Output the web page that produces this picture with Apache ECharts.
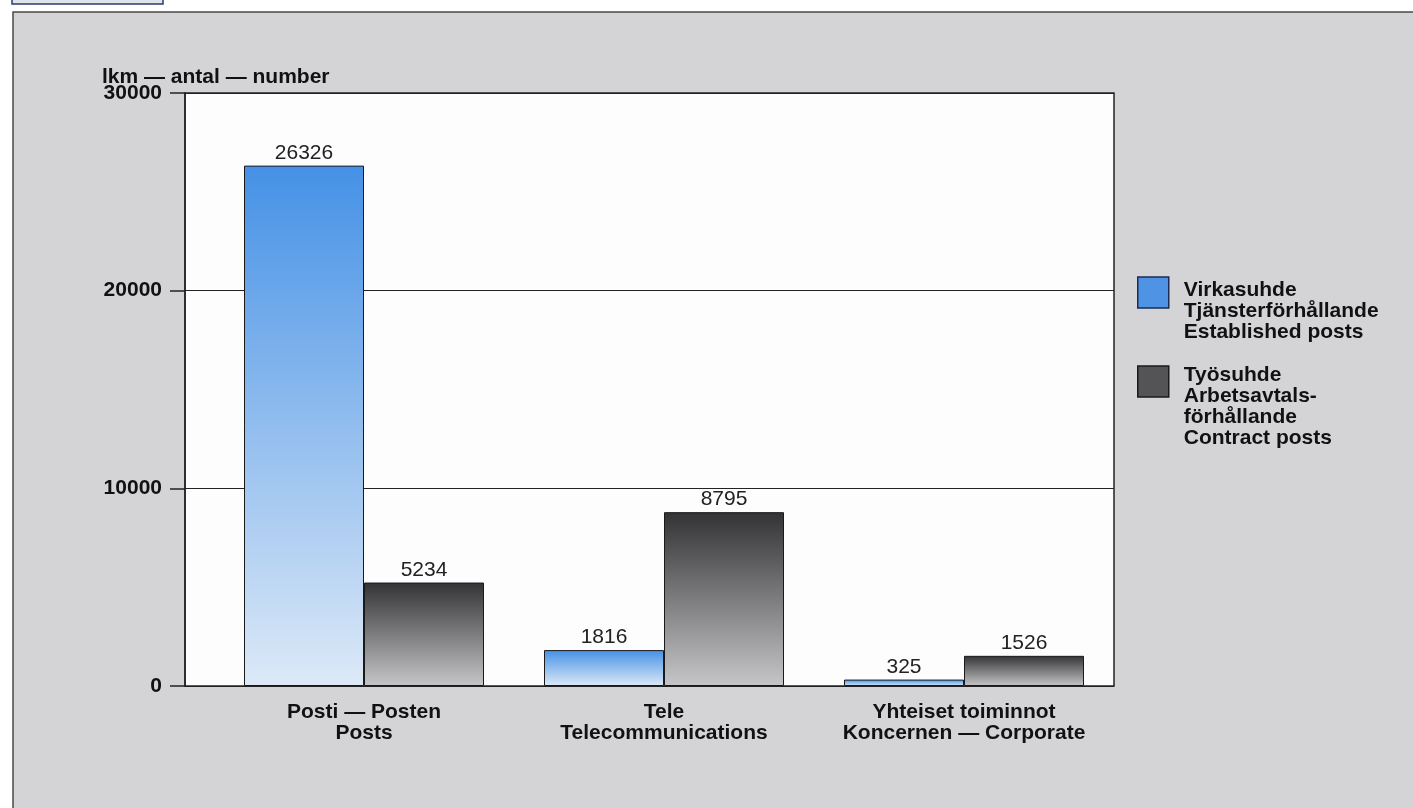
<!DOCTYPE html>
<html>
<head>
<meta charset="utf-8">
<script src="https://cdn.jsdelivr.net/npm/echarts@6/dist/echarts.min.js"></script>
<style>
html,body{margin:0;padding:0;background:#fff;}
#c{width:1413px;height:808px;}
</style>
</head>
<body>
<div id="c"></div>
<script>
const categories = ['Posti — Posten\nPosts', 'Tele\nTelecommunications', 'Yhteiset toiminnot\nKoncernen — Corporate'];
const seriesNames = ['Virkasuhde\nTjänsterförhållande\nEstablished posts', 'Työsuhde\nArbetsavtals-\nförhållande\nContract posts'];
const established = [26326, 1816, 325];
const contract = [5234, 8795, 1526];
const yMin = 0, yMax = 30000, yStep = 10000;
const axisTitle = 'lkm — antal — number';

const FONT = '"Liberation Sans", Arial, Helvetica, sans-serif';
const chart = echarts.init(document.getElementById('c'), null, {renderer: 'canvas'});

const blueGrad = new echarts.graphic.LinearGradient(0, 0, 0, 1, [
  {offset: 0, color: '#4591e6'}, {offset: 1, color: '#dde9f7'}
]);
const darkGrad = new echarts.graphic.LinearGradient(0, 0, 0, 1, [
  {offset: 0, color: '#333335'}, {offset: 1, color: '#c6c6c8'}
]);

const legendText = {fontFamily: FONT, fontSize: 21, fontWeight: 'bold', lineHeight: 21, color: '#111', padding: [0, 0, 0, 10]};

const option = {
  backgroundColor: '#ffffff',
  animation: false,
  textStyle: {fontFamily: FONT},
  graphic: {
    elements: [
      {type: 'rect', z: -100, shape: {x: 13, y: 12, width: 1420, height: 820},
       style: {fill: '#d4d4d7', stroke: '#4a4a4e', lineWidth: 1.5}},
      {type: 'rect', z: -100, shape: {x: 12, y: -10, width: 151, height: 14},
       style: {fill: '#dfe3ea', stroke: '#2c3d6e', lineWidth: 1.5}}
    ]
  },
  title: {
    text: axisTitle,
    left: 102, top: 67,
    padding: 0,
    textStyle: {fontFamily: FONT, fontSize: 21, fontWeight: 'bold', color: '#111'}
  },
  legend: [
    {
      orient: 'vertical', left: 1137, top: 242, padding: 0,
      itemWidth: 31, itemHeight: 31,
      formatter: '{sp| }\n{name}',
      data: [{name: seriesNames[0], icon: 'rect',
        itemStyle: {color: '#4f93e4', borderColor: '#1c2b55', borderWidth: 1.5}}],
      textStyle: Object.assign({}, legendText, {rich: {sp: {fontSize: 1, lineHeight: 38}}})
    },
    {
      orient: 'vertical', left: 1137, top: 314, padding: 0,
      itemWidth: 31, itemHeight: 31,
      formatter: '{sp| }\n{name}',
      data: [{name: seriesNames[1], icon: 'rect',
        itemStyle: {color: '#545456', borderColor: '#1a1a1a', borderWidth: 1.5}}],
      textStyle: Object.assign({}, legendText, {rich: {sp: {fontSize: 1, lineHeight: 51}}})
    }
  ],
  grid: [
    {left: 185, right: 299, top: 93, bottom: 122, show: true,
     backgroundColor: '#fdfdfd', borderColor: '#222', borderWidth: 1.5},
    {left: 214, right: 299, top: 93, bottom: 122}
  ],
  xAxis: [
    {gridIndex: 0, type: 'value', show: false, min: 0, max: 1},
    {gridIndex: 1, type: 'category', data: categories,
     axisLine: {show: false}, axisTick: {show: false},
     axisLabel: {margin: 16, fontFamily: FONT, fontSize: 21, fontWeight: 'bold',
       lineHeight: 21, color: '#111', interval: 0}}
  ],
  yAxis: [
    {gridIndex: 0, type: 'value', min: yMin, max: yMax, interval: yStep,
     axisLine: {show: true, lineStyle: {color: '#222', width: 1.5}},
     axisTick: {show: true, inside: false, length: 15, lineStyle: {color: '#222', width: 1.5}},
     axisLabel: {margin: 23, fontFamily: FONT, fontSize: 21, fontWeight: 'bold', color: '#111',
       formatter: function (v) { return String(v); }},
     splitLine: {show: true, lineStyle: {color: '#222', width: 1.2}}},
    {gridIndex: 1, type: 'value', min: yMin, max: yMax, interval: yStep, show: false,
     splitLine: {show: false}}
  ],
  series: [
    {name: seriesNames[0], type: 'bar', xAxisIndex: 1, yAxisIndex: 1,
     data: established, barWidth: 120, barGap: '0%',
     itemStyle: {color: blueGrad, borderColor: '#1a1a1a', borderWidth: 1},
     label: {show: true, position: 'top', distance: 2, fontFamily: FONT, fontSize: 21, color: '#222'}},
    {name: seriesNames[1], type: 'bar', xAxisIndex: 1, yAxisIndex: 1,
     data: contract, barWidth: 120, barGap: '0%',
     itemStyle: {color: darkGrad, borderColor: '#1a1a1a', borderWidth: 1},
     label: {show: true, position: 'top', distance: 2, fontFamily: FONT, fontSize: 21, color: '#222'}}
  ]
};
chart.setOption(option);
</script>
</body>
</html>
